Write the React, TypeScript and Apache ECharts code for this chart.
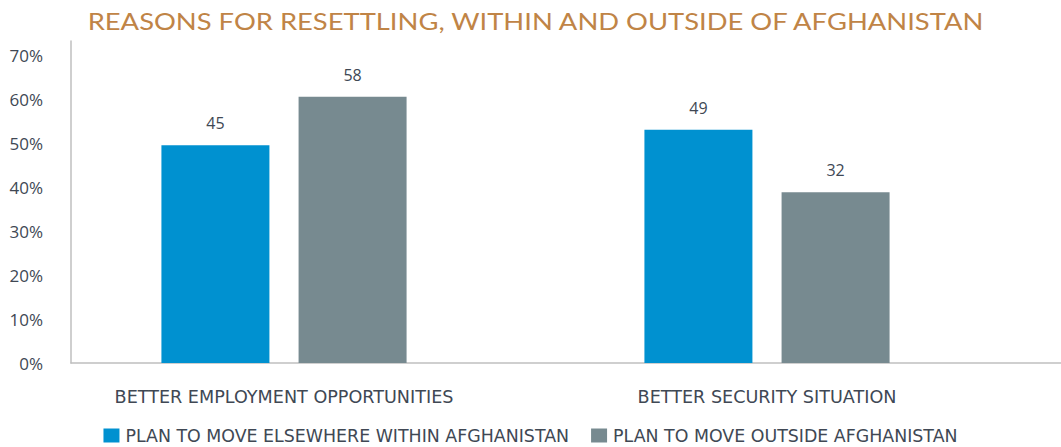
import React, { useEffect, useRef } from "react";
import * as echarts from "echarts";

const titleText = "REASONS FOR RESETTLING, WITHIN AND OUTSIDE OF AFGHANISTAN";
const categories = ["BETTER EMPLOYMENT OPPORTUNITIES", "BETTER SECURITY SITUATION"];
const seriesNames = ["PLAN TO MOVE ELSEWHERE WITHIN AFGHANISTAN", "PLAN TO MOVE OUTSIDE AFGHANISTAN"];
// bar heights as drawn (percent of the axis)
const withinHeights = [49.5, 53.0];
const outsideHeights = [60.5, 38.8];
// value labels printed above the bars
const withinLabels = ["45", "49"];
const outsideLabels = ["58", "32"];
const yMax = 73.2;
const yInterval = 10;

const BLUE = "#0091D0";
const GREY = "#778A90";
const TEXT = "#404854";
const AXIS = "#BFBFBF";
const FONT = "'Open Sans', 'Noto Sans', sans-serif";
const WIDE = "'DejaVu Sans', 'Open Sans', sans-serif";

export default function App() {
  const ref = useRef<HTMLDivElement>(null);
  useEffect(() => {
    if (!ref.current) return;
    const chart = echarts.init(ref.current, null, { renderer: "svg" });
    const labelStyle = (labels: string[]) => ({
      show: true,
      position: "top",
      distance: 14,
      color: TEXT,
      fontSize: 16,
      fontFamily: FONT,
      formatter: (p: any) => labels[p.dataIndex],
    });
    chart.setOption({
      animation: false,
      graphic: [
        {
          type: "text",
          x: 535.5,
          y: 21,
          scaleX: 1.19,
          style: {
            text: titleText,
            fill: "#C08446",
            fontSize: 23,
            fontFamily: "Lato, 'Open Sans', sans-serif",
            textAlign: "center",
            textVerticalAlign: "middle",
          },
        },
      ],
      legend: {
        left: "center",
        top: 427,
        itemWidth: 16,
        itemHeight: 14,
        itemGap: 22,
        icon: "rect",
        padding: [0, 5, 0, 5],
        textStyle: { color: TEXT, fontSize: 17.4, lineHeight: 16, fontFamily: WIDE, padding: [0, 0, 0, 1] },
        data: seriesNames,
      },
      grid: [
        { left: 42.5, width: 966, top: 41, bottom: 84 },
        { left: 71, right: 0, top: 41, bottom: 84 },
      ],
      xAxis: [
        {
          type: "category",
          gridIndex: 0,
          data: categories,
          axisLine: { show: false },
          axisTick: { show: false },
          axisLabel: { color: TEXT, fontSize: 17.6, fontFamily: WIDE, margin: 25 },
        },
        {
          type: "value",
          gridIndex: 1,
          min: 0,
          max: 1,
          axisLine: { show: true, lineStyle: { color: AXIS, width: 1.5 } },
          axisTick: { show: false },
          axisLabel: { show: false },
          splitLine: { show: false },
        },
      ],
      yAxis: [
        {
          type: "value",
          gridIndex: 0,
          min: 0,
          max: yMax,
          interval: yInterval,
          offset: -28.5,
          axisLine: { show: true, lineStyle: { color: AXIS, width: 1.5 } },
          axisTick: { show: false },
          splitLine: { show: false },
          axisLabel: {
            color: TEXT,
            fontSize: 17,
            fontFamily: FONT,
            margin: 28,
            showMaxLabel: false,
            formatter: (v: number) => (v % yInterval === 0 ? v + "%" : ""),
          },
        },
        { type: "value", gridIndex: 1, min: 0, max: 1, show: false },
      ],
      series: [
        {
          name: seriesNames[0],
          type: "bar",
          xAxisIndex: 0,
          yAxisIndex: 0,
          data: withinHeights,
          barWidth: 108,
          barGap: "27%",
          itemStyle: { color: BLUE },
          label: labelStyle(withinLabels),
        },
        {
          name: seriesNames[1],
          type: "bar",
          xAxisIndex: 0,
          yAxisIndex: 0,
          data: outsideHeights,
          barWidth: 108,
          barGap: "27%",
          itemStyle: { color: GREY },
          label: labelStyle(outsideLabels),
        },
      ],
    });
    return () => chart.dispose();
  }, []);
  return (
    <div
      ref={ref}
      style={{ position: "fixed", left: 0, top: 0, width: 1061, height: 447, background: "#fff" }}
    />
  );
}
